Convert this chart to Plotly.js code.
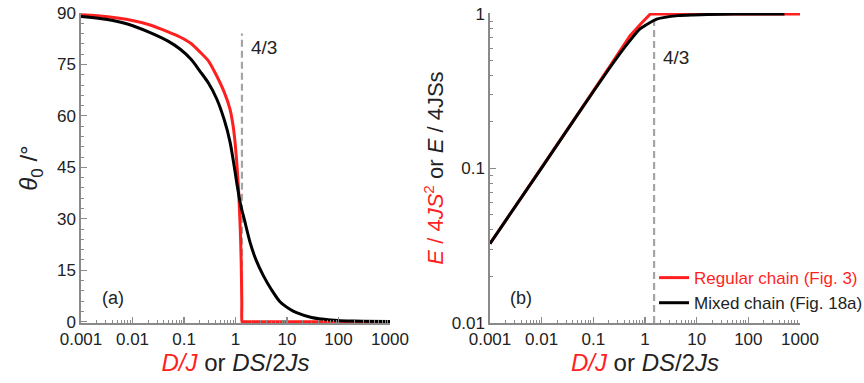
<!DOCTYPE html>
<html>
<head>
<meta charset="utf-8">
<script src="https://cdn.plot.ly/plotly-3.0.1.min.js"></script>
<style>html,body{margin:0;padding:0;background:#fff;}#chart{width:864px;height:383px;}</style>
</head>
<body>
<div id="chart"></div>
<script>
// ---- Data ----
// Panel (a): theta0 (degrees) vs D/J
const thetaRegularD = [0.001, 0.003, 0.008, 0.022, 0.049, 0.0835, 0.137, 0.205, 0.3, 0.43, 0.6, 0.78, 0.9, 0.98, 1.05, 1.10, 1.15, 1.19, 1.23, 1.26, 1.29, 1.31, 1.325, 1.333, 1.4, 1000];
const thetaRegular  = [89.5, 89.0, 88.1, 86.5, 84.5, 83.0, 81.1, 78.6, 76.0, 71.7, 67.0, 62.0, 57.0, 52.3, 47.0, 42.6, 38.0, 32.9, 28.0, 23.3, 17.0, 11.0, 5.0, 0, 0, 0];
const thetaMixedD = [0.001, 0.003, 0.008, 0.022, 0.049, 0.0835, 0.137, 0.205, 0.3, 0.43, 0.6, 0.78, 0.95, 1.07, 1.26, 1.5, 1.91, 2.5, 3.45, 5.0, 7.3, 11.4, 15.3, 30, 69, 200, 1000];
const thetaMixed  = [89.0, 88.2, 86.8, 84.3, 81.8, 79.5, 76.5, 73.0, 69.5, 65.0, 59.0, 52.5, 45.0, 40.0, 34.0, 29.5, 23.2, 18.0, 13.5, 9.3, 5.8, 3.6, 2.6, 1.2, 0.5, 0.15, 0.05];

// Panel (b): normalised energy vs D/J
const energyRegularD = [0.001, 0.01, 0.05, 0.21, 0.51, 0.85, 1.27, 1000];
const energyRegular  = [0.0326, 0.101, 0.225, 0.46, 0.72, 0.87, 1.0, 1.0];
const energyMixedD = [0.001, 0.01, 0.05, 0.21, 0.44, 0.8, 1.0, 1.68, 4.4, 8.6, 30, 100, 500];
const energyMixed  = [0.0326, 0.101, 0.224, 0.45, 0.63, 0.80, 0.84, 0.925, 0.975, 0.985, 0.995, 0.999, 1.0];

// Critical value markers (vertical dashed lines)
const criticalLeftX = 4/3;
const criticalLeftTop = 84;
const criticalRightX = 1.5;
const criticalRightTop = 0.92;
const criticalLabel = "4/3";

// Tick labels
const xTickVals = [0.001, 0.01, 0.1, 1, 10, 100, 1000];
const xTickText = ["0.001", "0.01", "0.1", "1", "10", "100", "1000"];
const yRightTickVals = [0.01, 0.1, 1];
const yRightTickText = ["0.01", "0.1", "1"];

const seriesNames = ["Regular chain (Fig. 3)", "Mixed chain (Fig. 18a)"];

// ---- Styling ----
const RED = "#ff1f1f";
const BLACK = "#000000";
const AXIS = "#8a8a8a";
const DASH = "#a4a4a4";
const FONT = "'Liberation Sans', Arial, Helvetica, sans-serif";

const traces = [
  {x: thetaRegularD, y: thetaRegular, xaxis: "x", yaxis: "y", mode: "lines",
   line: {color: RED, width: 3, shape: "spline", smoothing: 0.5}, showlegend: false, hoverinfo: "skip"},
  {x: thetaMixedD, y: thetaMixed, xaxis: "x", yaxis: "y", mode: "lines",
   line: {color: BLACK, width: 3, shape: "spline", smoothing: 0.8}, showlegend: false, hoverinfo: "skip"},
  {x: energyRegularD, y: energyRegular, xaxis: "x2", yaxis: "y2", mode: "lines",
   line: {color: RED, width: 3}, name: "<span style='color:" + RED + "'>" + seriesNames[0] + "</span>"},
  {x: energyMixedD, y: energyMixed, xaxis: "x2", yaxis: "y2", mode: "lines",
   line: {color: BLACK, width: 3, shape: "spline", smoothing: 0.6}, name: seriesNames[1]}
];

const xCommon = {
  type: "log", range: [-3, 3], tickmode: "array", tickvals: xTickVals, ticktext: xTickText,
  ticks: "inside", ticklen: 6, tickwidth: 1.2, tickcolor: AXIS,
  showline: true, linecolor: AXIS, linewidth: 1.6, showgrid: false, zeroline: false,
  minor: {dtick: "D1", ticks: "inside", ticklen: 3, tickwidth: 1, tickcolor: AXIS, showgrid: false},
  tickfont: {family: FONT, size: 17, color: "#222"}, automargin: false
};

const xTitle = "<span style='color:" + RED + "'><i>D/J</i></span> or <i>DS</i>/2<i>Js</i>";

const layout = {
  width: 864, height: 383,
  margin: {l: 81, r: 64, t: 13, b: 60, autoexpand: false},
  paper_bgcolor: "#fff", plot_bgcolor: "#fff",
  font: {family: FONT, color: "#222"},
  xaxis: Object.assign({}, xCommon, {domain: [0, 0.4298], anchor: "y",
    title: {text: xTitle, font: {family: FONT, size: 24, color: "#222"}, standoff: 4}}),
  xaxis2: Object.assign({}, xCommon, {domain: [0.5688, 1], anchor: "y2",
    title: {text: xTitle, font: {family: FONT, size: 24, color: "#222"}, standoff: 4}}),
  yaxis: {
    domain: [0, 1], anchor: "x", range: [-0.4, 90], tickmode: "linear", tick0: 0, dtick: 15,
    ticks: "inside", ticklen: 6, tickwidth: 1.2, tickcolor: AXIS,
    minor: {dtick: 3, ticks: "inside", ticklen: 3, tickwidth: 1, tickcolor: AXIS, showgrid: false},
    showline: true, linecolor: AXIS, linewidth: 1.6, showgrid: false, zeroline: false,
    tickfont: {family: FONT, size: 17, color: "#222"}, automargin: false,
    title: {text: "<i>θ</i><sub>0</sub> /°", font: {family: FONT, size: 24, color: "#222"}, standoff: 12}
  },
  yaxis2: {
    domain: [0, 1], anchor: "x2", type: "log", range: [-2, 0.006], tickmode: "array",
    tickvals: yRightTickVals, ticktext: yRightTickText,
    ticks: "inside", ticklen: 6, tickwidth: 1.2, tickcolor: AXIS,
    minor: {dtick: "D1", ticks: "inside", ticklen: 3, tickwidth: 1, tickcolor: AXIS, showgrid: false},
    showline: true, linecolor: AXIS, linewidth: 1.6, showgrid: false, zeroline: false,
    tickfont: {family: FONT, size: 17, color: "#222"}, automargin: false,
    title: {text: "<span style='color:" + RED + "'><i>E</i> / 4<i>JS</i><sup>2</sup></span> or <i>E</i> / 4JSs",
            font: {family: FONT, size: 22, color: "#222"}, standoff: 2}
  },
  showlegend: true,
  legend: {x: 0.797, y: 0.203, xanchor: "left", yanchor: "top", bgcolor: "rgba(0,0,0,0)",
           borderwidth: 0, font: {family: FONT, size: 17, color: "#222"}, tracegroupgap: 0},
  shapes: [
    {type: "line", xref: "x", yref: "y", x0: criticalLeftX, x1: criticalLeftX, y0: 0, y1: criticalLeftTop,
     line: {color: DASH, width: 2.2, dash: "7px,4px"}, layer: "below"},
    {type: "line", xref: "x2", yref: "y2", x0: criticalRightX, x1: criticalRightX, y0: 0.01, y1: criticalRightTop,
     line: {color: DASH, width: 2.2, dash: "7px,4px"}, layer: "below"}
  ],
  annotations: [
    {xref: "x domain", yref: "y domain", x: 0.544, y: 0.89, xanchor: "left", yanchor: "middle",
     text: criticalLabel, showarrow: false, font: {family: FONT, size: 19, color: "#222"}},
    {xref: "x2 domain", yref: "y2 domain", x: 0.553, y: 0.858, xanchor: "left", yanchor: "middle",
     text: criticalLabel, showarrow: false, font: {family: FONT, size: 19, color: "#222"}},
    {xref: "x domain", yref: "y domain", x: 0.06, y: 0.081, xanchor: "left", yanchor: "middle",
     text: "(a)", showarrow: false, font: {family: FONT, size: 18, color: "#222"}},
    {xref: "x2 domain", yref: "y2 domain", x: 0.059, y: 0.081, xanchor: "left", yanchor: "middle",
     text: "(b)", showarrow: false, font: {family: FONT, size: 18, color: "#222"}}
  ]
};

Plotly.newPlot("chart", traces, layout, {staticPlot: true, displayModeBar: false});
</script>
</body>
</html>
